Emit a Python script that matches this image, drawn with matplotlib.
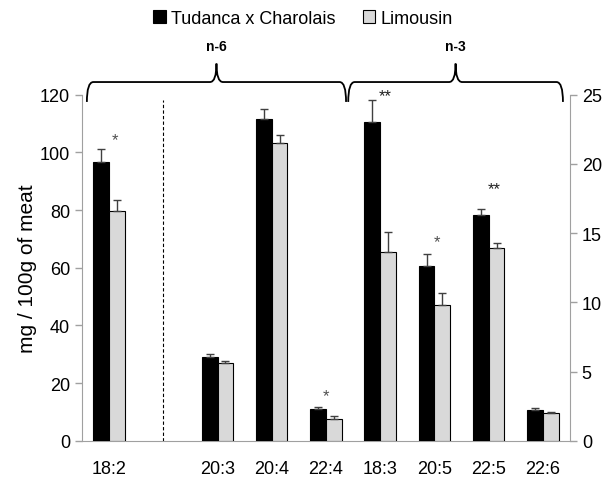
import numpy as np
import matplotlib.pyplot as plt
from matplotlib.path import Path
from matplotlib.patches import PathPatch

plt.rcParams['font.family'] = ['Liberation Sans Narrow', 'Liberation Sans', 'DejaVu Sans']

# fatty acids; slot 1 is left empty in the original chart
n6_labels = ['18:2', '20:3', '20:4', '22:4']
n3_labels = ['18:3', '20:5', '22:5', '22:6']
n6_pos = [0, 2, 3, 4]
n3_pos = [5, 6, 7, 8]

# mg / 100g of meat (n-6 on left axis, n-3 on right axis)
tc_n6 = [96.5, 28.9, 111.7, 11.0]
tc_n6_err = [4.6, 1.2, 3.5, 0.8]
lim_n6 = [79.8, 26.8, 103.2, 7.5]
lim_n6_err = [3.6, 0.9, 2.9, 1.0]

tc_n3 = [23.0, 12.6, 16.3, 2.24]
tc_n3_err = [1.65, 0.9, 0.45, 0.1]
lim_n3 = [13.6, 9.8, 13.9, 2.0]
lim_n3_err = [1.5, 0.85, 0.35, 0.05]

# significance marks: (position, label, height in that axis' units)
sig_n6 = [(0.1, '*', 104.5), (4, '*', 15.5)]
sig_n3 = [(5.1, '**', 24.9), (6.05, '*', 14.4), (7.1, '**', 18.2)]

black = '#000000'
grey = '#d9d9d9'
w = 0.29
err_kw = dict(ecolor='#404040', elinewidth=1, capsize=3, capthick=1)

fig = plt.figure(figsize=(6.06, 4.81), dpi=100)
ax = fig.add_axes([0.1353, 0.0817, 0.8053, 0.7193])
ax2 = ax.twinx()

x6 = np.array(n6_pos)
x3 = np.array(n3_pos)
ax.bar(x6 - w / 2, tc_n6, w, color=black, edgecolor='black', lw=0.8,
       yerr=[np.zeros(4), tc_n6_err], error_kw=err_kw, label='Tudanca x Charolais', zorder=3)
ax.bar(x6 + w / 2, lim_n6, w, color=grey, edgecolor='black', lw=0.8,
       yerr=[np.zeros(4), lim_n6_err], error_kw=err_kw, label='Limousin', zorder=3)
ax2.bar(x3 - w / 2, tc_n3, w, color=black, edgecolor='black', lw=0.8,
        yerr=[np.zeros(4), tc_n3_err], error_kw=err_kw, zorder=3)
ax2.bar(x3 + w / 2, lim_n3, w, color=grey, edgecolor='black', lw=0.8,
        yerr=[np.zeros(4), lim_n3_err], error_kw=err_kw, zorder=3)

ax.set_xlim(-0.5, 8.5)
ax.set_ylim(0, 120)
ax2.set_ylim(0, 25)
ax.set_yticks(range(0, 121, 20))
ax2.set_yticks(range(0, 26, 5))
ax.set_xticks(list(x6) + list(x3))
ax.set_xticklabels(n6_labels + n3_labels)
ax.set_ylabel('mg / 100g of meat', fontsize=15, labelpad=2)

for a in (ax, ax2):
    for s in a.spines.values():
        s.set_visible(False)
    a.tick_params(axis='y', labelsize=13, color='#a0a0a0', length=5, width=1)
ax.tick_params(axis='x', length=0, labelsize=13, pad=14)
ax.spines['left'].set_visible(True)
ax.spines['left'].set_color('#a0a0a0')
ax.spines['bottom'].set_visible(True)
ax.spines['bottom'].set_color('#a0a0a0')
ax2.spines['right'].set_visible(True)
ax2.spines['right'].set_color('#a0a0a0')

# dashed separator between 18:2 and the rest
ax.plot([1.0, 1.0], [0, 118], color='black', ls=(0, (3, 2)), lw=0.8)

for a, marks in ((ax, sig_n6), (ax2, sig_n3)):
    for xp, t, yv in marks:
        a.text(xp, yv, t, ha='center', va='center', fontsize=12,
               color='#202020' if t == '**' else '#505050', zorder=5)


def brace(x0, x1, yb, yh, yt, dx=0.12):
    xm = (x0 + x1) / 2
    verts = [(x0, yb), (x0, yh), (x0 + dx, yh),
             (xm - dx, yh),
             (xm, yh), (xm, yt),
             (xm, yh), (xm + dx, yh),
             (x1 - dx, yh),
             (x1, yh), (x1, yb)]
    codes = [Path.MOVETO, Path.CURVE3, Path.CURVE3, Path.LINETO,
             Path.CURVE3, Path.CURVE3, Path.CURVE3, Path.CURVE3,
             Path.LINETO, Path.CURVE3, Path.CURVE3]
    ax.add_patch(PathPatch(Path(verts, codes), fill=False, lw=1.3,
                           ec='black', clip_on=False))
    return xm


m6 = brace(-0.41, 4.37, 117.5, 124.4, 130.8)
m3 = brace(4.41, 8.37, 117.5, 124.4, 130.8)
ax.text(m6, 134.5, 'n-6', ha='center', va='bottom', fontsize=10, fontweight='bold')
ax.text(m3, 134.5, 'n-3', ha='center', va='bottom', fontsize=10, fontweight='bold')

fig.legend(loc='center', bbox_to_anchor=(0.5, 0.96), ncol=2, frameon=False,
           fontsize=13, handlelength=0.7, handleheight=0.7, handletextpad=0.3,
           columnspacing=1.5)

plt.savefig('out.png', dpi=100)
